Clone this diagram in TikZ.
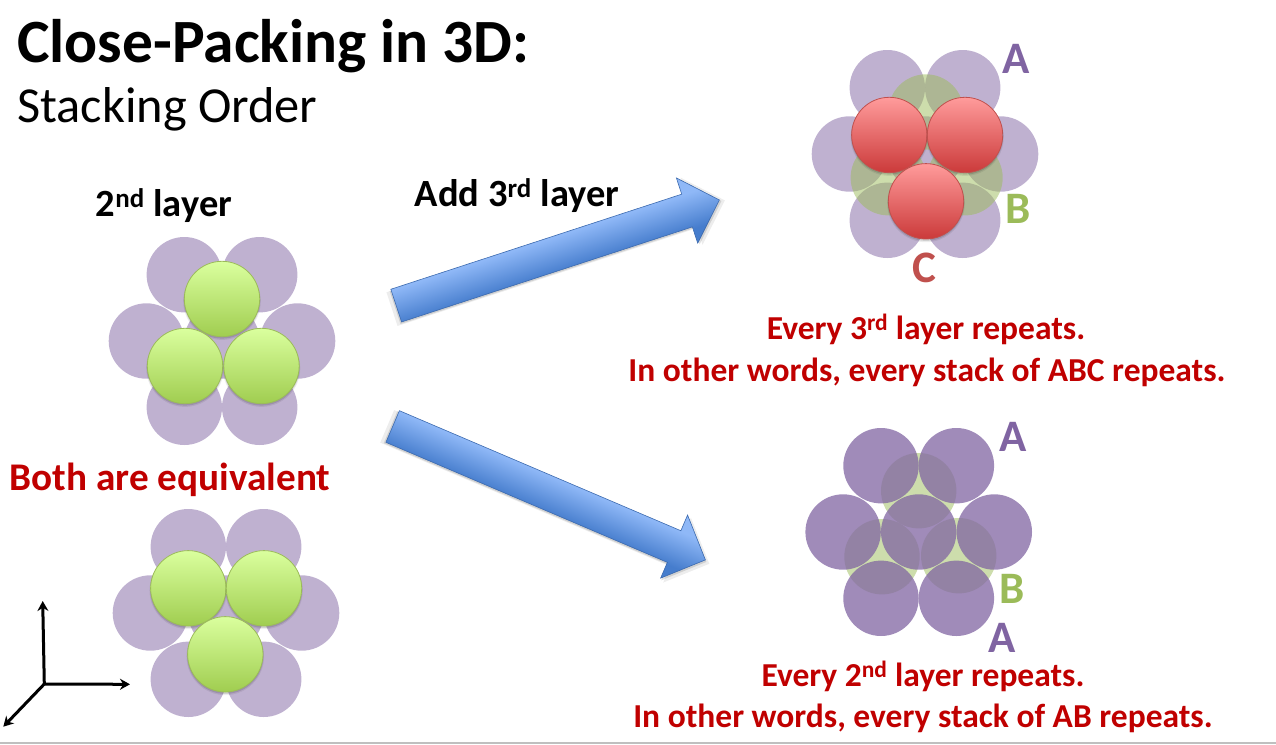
\documentclass[tikz,border=0pt]{standalone}
\usepackage{fontspec}
\setmainfont{Carlito}
\usetikzlibrary{shadows,arrows.meta}

\definecolor{purpleA}{HTML}{8064A2}
\definecolor{greenB}{HTML}{9BBB59}
\definecolor{redC}{HTML}{C0504D}
\definecolor{redtext}{HTML}{C00000}
\definecolor{arrowlight}{RGB}{143,184,247}
\definecolor{arrowdark}{RGB}{70,125,205}
\definecolor{greentop}{RGB}{218,255,158}
\definecolor{greenlow}{RGB}{160,205,80}
\definecolor{redtop}{RGB}{255,155,155}
\definecolor{redlow}{RGB}{203,58,58}
\pgfdeclareverticalshading{arrowfill}{100bp}{color(0bp)=(arrowdark); color(36bp)=(arrowdark); color(62bp)=(arrowlight); color(100bp)=(arrowlight)}

\tikzset{
  softshadow/.style={
    general shadow={shadow yshift=-2pt,shadow scale=1.03,fill=black,opacity=0.07},
    general shadow={shadow yshift=-1.5pt,shadow scale=1.01,fill=black,opacity=0.12}},
  layerball/.style={circle,inner sep=0pt,outer sep=0pt,minimum size=75.4pt},
  layerA/.style={layerball,fill=purpleA,fill opacity=0.5},
  layerAdark/.style={layerball,fill=purpleA,fill opacity=0.75},
  layerB/.style={layerball,fill=greenB,fill opacity=0.5},
  ballgreen/.style={layerball,softshadow,draw=greenB,line width=0.8pt,top color=greentop,bottom color=greenlow},
  ballred/.style={layerball,softshadow,draw=redC,line width=0.8pt,top color=redtop,bottom color=redlow},
  blockarrow/.style={softshadow,shading=arrowfill,draw=arrowdark!85!black,line width=0.6pt},
  axisline/.style={line width=3pt,-{Stealth[length=10pt,width=11pt]}},
  bigbold/.style={font=\fontsize{38.5}{42}\selectfont\bfseries},
  redline/.style={text=redtext,inner sep=0pt,font=\fontsize{33.5}{36}\selectfont\bfseries},
  letter/.style={inner sep=0pt,font=\fontsize{45}{45}\selectfont\bfseries}
}

% seven balls of a close-packed layer, #1 name, #2 style, #3 centre
\newcommand{\hexlayer}[3]{
  \begin{scope}[shift={(#3)}]
    \node[#2] (#1a) at (-37.7,-66.3) {};
    \node[#2] (#1b) at (37.7,-66.3) {};
    \node[#2] (#1c) at (-75.6,0) {};
    \node[#2] (#1d) at (0,0) {};
    \node[#2] (#1e) at (75.6,0) {};
    \node[#2] (#1f) at (-37.7,66.3) {};
    \node[#2] (#1g) at (37.7,66.3) {};
  \end{scope}
}
% block arrow, #1 middle of the tail, #2 angle
\newcommand{\blockarrow}[2]{
  \begin{scope}[transform canvas={shift={(#1)},rotate=#2}]
    \shade[blockarrow]
      (0,-17.2) -- ++(306,0) -- ++(0,-17.1) -- ++(34,34.3) -- ++(-34,34.3) -- ++(0,-17.1) -- ++(-306,0) -- cycle;
  \end{scope}
}

\begin{document}
\begin{tikzpicture}[x=1pt,y=-1pt]
\useasboundingbox (0,0) rectangle (1276,744);
\fill[black!25] (0,742) rectangle (1276,744);

\node[anchor=base west,inner sep=0pt,font=\fontsize{61.5}{66}\selectfont\bfseries] (title) at (17,62) {Close-Packing in 3D:};
\node[anchor=base west,inner sep=0pt,font=\fontsize{50.4}{56}\selectfont] (subtitle) at (17,122) {Stacking Order};

% left, second layer
\node[bigbold] (second) at (164,206) {2\textsuperscript{nd} layer};
\hexlayer{up}{layerA}{222,341}
\node[ballgreen] (upg1) at (222,299) {};
\node[ballgreen] (upg2) at (185,366) {};
\node[ballgreen] (upg3) at (261.5,366) {};

\node[redline,font=\fontsize{39.2}{44}\selectfont\bfseries] (same) at (170,480) {Both are equivalent};

\hexlayer{low}{layerA}{226,613}
\node[ballgreen] (lowg1) at (188.3,588.3) {};
\node[ballgreen] (lowg2) at (264,588.3) {};
\node[ballgreen] (lowg3) at (225.3,654.3) {};

% axes
\path (44.3,684) coordinate (origin);
\path (42.7,601) coordinate (zend);
\path (130,684.3) coordinate (yend);
\path (3.3,726.7) coordinate (xend);
\draw[axisline] (origin) -- (zend);
\draw[axisline] (origin) -- (yend);
\draw[axisline] (origin) -- (xend);

% arrows
\blockarrow{396.2,305.6}{18.1}
\blockarrow{392.65,426.5}{-23.1}
\node[bigbold] (add) at (517,195.5) {Add 3\textsuperscript{rd} layer};

% right, ABC
\hexlayer{abc}{layerA}{925,154}
\node[layerB] (abcb1) at (926,112) {};
\node[layerB] (abcb2) at (888.3,177.7) {};
\node[layerB] (abcb3) at (965,177.7) {};
\node[ballred] (abcc1) at (889.3,135) {};
\node[ballred] (abcc2) at (965,135) {};
\node[ballred] (abcc3) at (926,201.3) {};
\node[letter,purpleA] (labA) at (1016,59) {A};
\node[letter,greenB] (labB) at (1018,209) {B};
\node[letter,redC] (labC) at (924,268) {C};
\node[redline] (abc1) at (926,329) {Every 3\textsuperscript{rd} layer repeats.};
\node[redline] (abc2) at (927,372) {In other words, every stack of ABC repeats.};

% right, AB
\node[layerB] (abb1) at (918.7,490.7) {};
\node[layerB] (abb2) at (882,556.7) {};
\node[layerB] (abb3) at (958.7,555.7) {};
\hexlayer{aba}{layerAdark}{918.7,532}
\node[letter,purpleA] (labA2) at (1013,437) {A};
\node[letter,greenB] (labB2) at (1012,589) {B};
\node[letter,purpleA] (labA3) at (1002,638) {A};
\node[redline] (ab1) at (923,676) {Every 2\textsuperscript{nd} layer repeats.};
\node[redline] (ab2) at (923,718) {In other words, every stack of AB repeats.};
\end{tikzpicture}
\end{document}
